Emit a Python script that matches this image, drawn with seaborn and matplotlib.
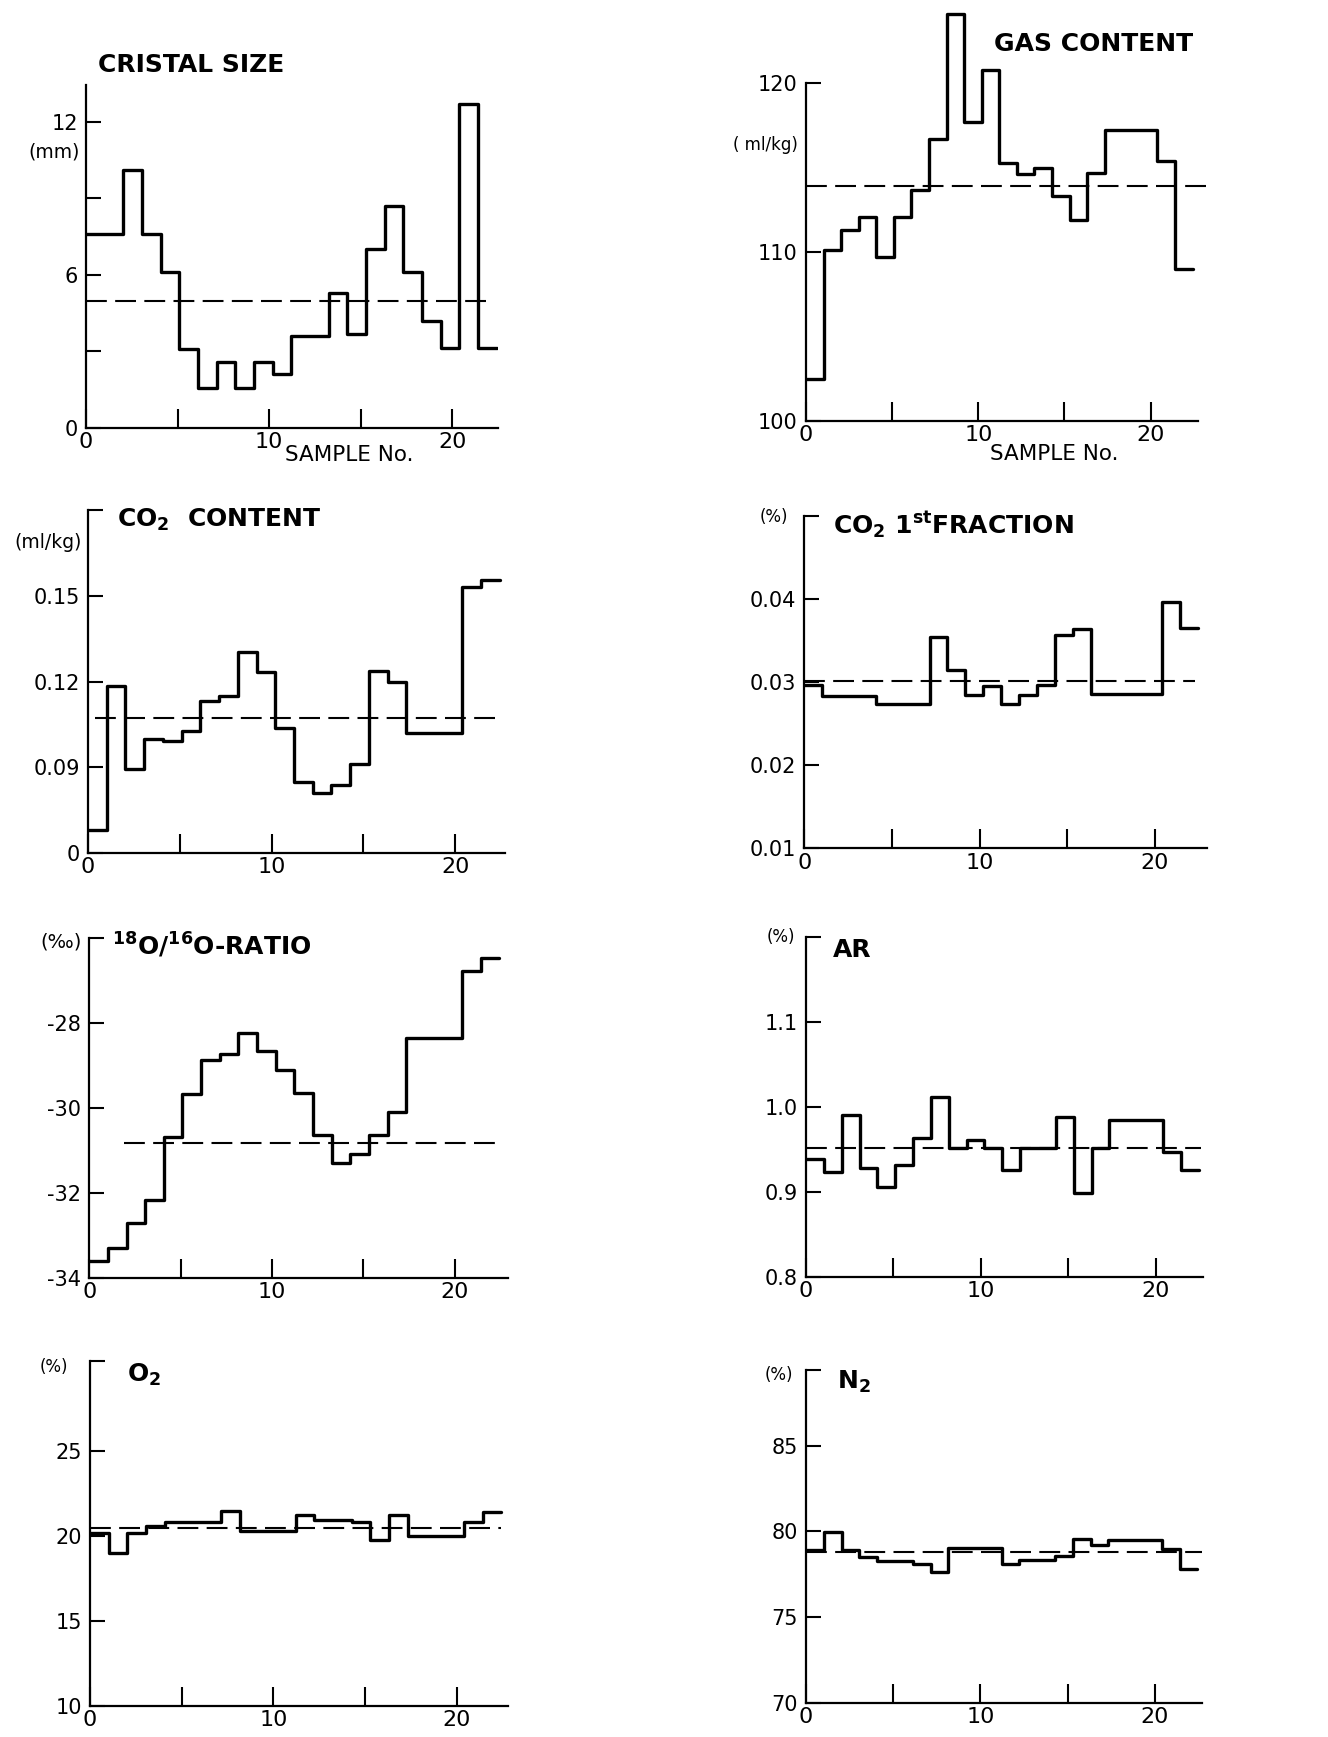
import numpy as np
import matplotlib
matplotlib.use('Agg')
import matplotlib.pyplot as plt
import seaborn as sns

# 22 ice samples, one step per sample
samples = np.arange(0, 23)
SAMPLE_WIDTH = 1.02

cristal_size = [7.6, 7.6, 10.1, 7.6, 6.1, 3.1, 1.55, 2.6, 1.55, 2.6, 2.1,
                3.6, 3.6, 5.3, 3.7, 7.0, 8.7, 6.1, 4.2, 3.15, 12.7, 3.15]
gas_content = [102.5, 110.1, 111.3, 112.1, 109.7, 112.1, 113.7, 116.7, 124.1, 117.7, 120.8,
               115.3, 114.6, 115.0, 113.3, 111.9, 114.7, 117.2, 117.2, 117.2, 115.4, 109.0]
co2_content = [0.068, 0.1186, 0.0894, 0.0997, 0.099, 0.1028, 0.113, 0.115, 0.1305, 0.1232, 0.1036,
               0.0849, 0.0808, 0.0837, 0.091, 0.1238, 0.120, 0.102, 0.102, 0.102, 0.1533, 0.1556]
co2_first = [0.0296, 0.0283, 0.0283, 0.0283, 0.0273, 0.0273, 0.0273, 0.0354, 0.0315, 0.0284, 0.0295,
             0.0274, 0.0285, 0.0296, 0.0356, 0.0364, 0.0286, 0.0286, 0.0286, 0.0286, 0.0396, 0.0365]
o18_ratio = [-33.59, -33.28, -32.69, -32.15, -30.67, -29.66, -28.87, -28.72, -28.23, -28.66, -29.11,
             -29.63, -30.64, -31.28, -31.08, -30.64, -30.09, -28.34, -28.34, -28.34, -26.76, -26.46]
argon = [0.939, 0.923, 0.990, 0.928, 0.905, 0.932, 0.963, 1.012, 0.951, 0.961, 0.952,
         0.926, 0.952, 0.952, 0.988, 0.898, 0.952, 0.984, 0.984, 0.984, 0.947, 0.925]
oxygen = [20.2, 19.0, 20.2, 20.6, 20.85, 20.85, 20.85, 21.45, 20.27, 20.27, 20.27,
          21.26, 20.92, 20.92, 20.8, 19.74, 21.26, 20.02, 20.02, 20.02, 20.82, 21.41]
nitrogen = [78.93, 79.96, 78.93, 78.5, 78.27, 78.27, 78.08, 77.63, 79.05, 79.05, 79.05,
            78.08, 78.35, 78.35, 78.54, 79.57, 79.22, 79.51, 79.51, 79.51, 78.99, 77.83]

# mean values (dashed lines)
mean_cristal = 4.97
mean_gas = 113.9
mean_co2 = 0.1073
mean_co2_first = 0.0301
mean_o18 = -30.81
mean_argon = 0.951
mean_oxygen = 20.47
mean_nitrogen = 78.8

sns.set_style('ticks')
plt.rcParams['font.family'] = ['DejaVu Sans']
plt.rcParams['mathtext.fontset'] = 'dejavusans'
plt.rcParams['mathtext.default'] = 'regular'
plt.rcParams['text.color'] = 'black'
plt.rcParams['xtick.color'] = 'black'
plt.rcParams['ytick.color'] = 'black'
plt.rcParams['axes.edgecolor'] = 'black'

fig = plt.figure(figsize=(13.28, 17.37), dpi=100)

panels = [
    dict(rect=[0.0648, 0.7536, 0.3101, 0.1975], y=cristal_size, mean=mean_cristal, mean_span=(0, 22.0),
         xlim=22.5, ylim=(0, 13.45), yticks=[0, 3, 6, 9, 12], ylabels=['0', '', '6', '', '12'],
         title='CRISTAL SIZE', tpos=(0.029, 1.058), tha='left',
         unit='(mm)', upos=(-0.015, 0.805), usize=13.5, sample=True),
    dict(rect=[0.6069, 0.7576, 0.3088, 0.2412], y=gas_content, mean=mean_gas, mean_span=(0, 23.7),
         xlim=23.8, xbound=22.75, ylim=(100, 124.8), ybound=(100, 120),
         yticks=[100, 110, 120], ylabels=['100', '110', '120'],
         title='GAS CONTENT', tpos=(0.944, 0.90), tha='right',
         unit='( ml/kg)', upos=(-0.02, 0.66), usize=12, sample=True),
    dict(rect=[0.0663, 0.5091, 0.3137, 0.1971], y=co2_content, mean=mean_co2, mean_span=(0.4, 22.6),
         xlim=22.7, ylim=(0.06, 0.18), yticks=[0.06, 0.09, 0.12, 0.15, 0.18],
         ylabels=['0', '0.09', '0.12', '0.15', ''],
         title='CO$_2$  CONTENT', tpos=(0.07, 0.972), tha='left',
         unit='(ml/kg)', upos=(-0.014, 0.907), usize=13.5),
    dict(rect=[0.6057, 0.5116, 0.3030, 0.1915], y=co2_first, mean=mean_co2_first, mean_span=(0, 22.3),
         xlim=22.95, ylim=(0.01, 0.05), yticks=[0.01, 0.02, 0.03, 0.04, 0.05],
         ylabels=['0.01', '0.02', '0.03', '0.04', ''],
         title='CO$_2$ 1$^{st}$FRACTION', tpos=(0.071, 0.972), tha='left',
         unit='(%)', upos=(-0.04, 0.996), usize=12),
    dict(rect=[0.0672, 0.2641, 0.3152, 0.1957], y=o18_ratio, mean=mean_o18, mean_span=(1.9, 22.2),
         xlim=22.9, ylim=(-34, -26), yticks=[-34, -32, -30, -28, -26],
         ylabels=['-34', '-32', '-30', '-28', ''],
         title='$^{18}$O/$^{16}$O-RATIO', tpos=(0.054, 0.98), tha='left',
         unit='(‰)', upos=(-0.017, 0.989), usize=14),
    dict(rect=[0.6069, 0.2650, 0.2991, 0.1957], y=argon, mean=mean_argon, mean_span=(0, 22.6),
         xlim=22.7, ylim=(0.8, 1.2), yticks=[0.8, 0.9, 1.0, 1.1, 1.2],
         ylabels=['0.8', '0.9', '1.0', '1.1', ''],
         title='AR', tpos=(0.068, 0.961), tha='left',
         unit='(%)', upos=(-0.028, 0.999), usize=12),
    dict(rect=[0.0678, 0.0178, 0.3147, 0.1988], y=oxygen, mean=mean_oxygen, mean_span=(0, 22.4),
         xlim=22.8, ylim=(10, 30.3), yticks=[10, 15, 20, 25, 30.3],
         ylabels=['10', '15', '20', '25', ''],
         title='O$_2$', tpos=(0.088, 0.959), tha='left',
         unit='(%)', upos=(-0.053, 0.983), usize=12),
    dict(rect=[0.6069, 0.0197, 0.2982, 0.1915], y=nitrogen, mean=mean_nitrogen, mean_span=(0, 22.7),
         xlim=22.7, ylim=(70, 89.4), yticks=[70, 75, 80, 85, 89.4],
         ylabels=['70', '75', '80', '85', ''],
         title='N$_2$', tpos=(0.078, 0.964), tha='left',
         unit='(%)', upos=(-0.033, 0.985), usize=12),
]

edges = samples * SAMPLE_WIDTH

for p in panels:
    ax = fig.add_axes(p['rect'])
    vals = list(p['y']) + [p['y'][-1]]
    sns.lineplot(x=edges, y=vals, drawstyle='steps-post', color='black', lw=2.4,
                 estimator=None, ax=ax, legend=False)
    x0, x1 = p['mean_span']
    ax.axhline(p['mean'], xmin=x0 / p['xlim'], xmax=x1 / p['xlim'], color='black',
               lw=1.5, dashes=(10, 4))
    ax.set_xlim(0, p['xlim'])
    ax.set_ylim(*p['ylim'])
    sns.despine(ax=ax)
    ax.spines['left'].set_linewidth(1.6)
    ax.spines['bottom'].set_linewidth(1.6)
    ax.spines['bottom'].set_bounds(0, p.get('xbound', p['xlim']))
    if 'ybound' in p:
        ax.spines['left'].set_bounds(*p['ybound'])
    ax.set_xticks([0, 5, 10, 15, 20])
    ax.set_xticklabels(['0', '', '10', '', '20'])
    ax.set_yticks(p['yticks'])
    ax.set_yticklabels(p['ylabels'])
    ax.tick_params(axis='x', direction='in', length=14, width=1.5, pad=3, labelsize=16)
    ax.tick_params(axis='y', direction='in', length=10.5, width=1.5, pad=6, labelsize=15)
    ax.set_xlabel('')
    ax.set_ylabel('')
    ax.set_facecolor('white')
    ax.text(p['tpos'][0], p['tpos'][1], p['title'], transform=ax.transAxes,
            ha=p['tha'], va='center', fontsize=18, fontweight='bold')
    ax.text(p['upos'][0], p['upos'][1], p['unit'], transform=ax.transAxes,
            ha='right', va='center', fontsize=p['usize'])
    if p.get('sample'):
        ax.text(14.4, -0.078, 'SAMPLE No.', transform=ax.get_xaxis_transform(),
                ha='center', va='center', fontsize=15.5)

fig.savefig('out.png', dpi=100, facecolor='white')
